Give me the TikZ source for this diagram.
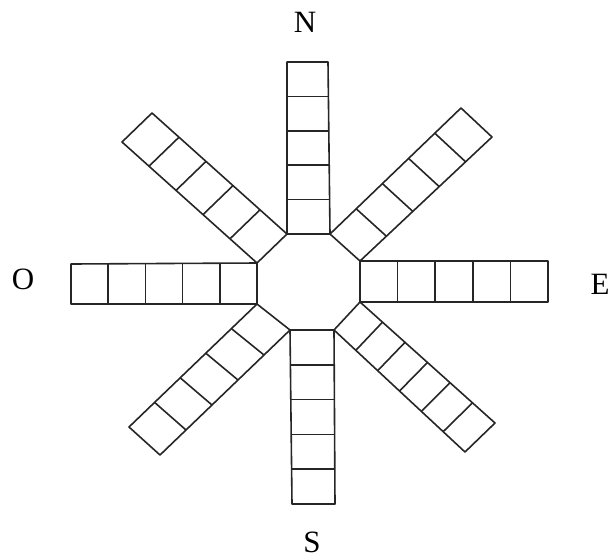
\documentclass[tikz,border=0pt]{standalone}
\usepackage{fontspec}
\setmainfont{Liberation Serif}
\usetikzlibrary{calc}
\tikzset{
  cell/.style={line width=1.6pt,draw=black!85,line join=round},
  compass/.style={font=\fontsize{31}{33}\selectfont,inner sep=0pt},
}

\begin{document}
\begin{tikzpicture}[x=1pt,y=-1pt]
  \useasboundingbox (0,0) rectangle (611,558);
  % octagon corners
  \coordinate (A) at (287,234);
  \coordinate (B) at (330,234);
  \coordinate (C) at (360,261);
  \coordinate (D) at (360,302);
  \coordinate (E) at (334,330);
  \coordinate (F) at (290,330);
  \coordinate (G) at (257,304);
  \coordinate (H) at (257,263);
  % outer ends of the arms
  \coordinate (n1)  at (287,62);   \coordinate (n2)  at (328,62);
  \coordinate (ne1) at (461,108);  \coordinate (ne2) at (492,137);
  \coordinate (e1)  at (548,261);  \coordinate (e2)  at (548,302);
  \coordinate (se1) at (495,423);  \coordinate (se2) at (465,452);
  \coordinate (s1)  at (335,504);  \coordinate (s2)  at (292,504);
  \coordinate (sw1) at (160,455);  \coordinate (sw2) at (129,427);
  \coordinate (w1)  at (71,304);   \coordinate (w2)  at (71,264);
  \coordinate (nw1) at (122,142);  \coordinate (nw2) at (152,113);
  % octagon
  \draw[cell] (A) -- (B) -- (C) -- (D) -- (E) -- (F) -- (G) -- (H) -- cycle;
  % arms of cells
  \foreach \p/\q/\r/\s/\n in {A/B/n1/n2/5, B/C/ne1/ne2/5, C/D/e1/e2/5,
      D/E/se1/se2/6, E/F/s1/s2/5, F/G/sw1/sw2/5, G/H/w1/w2/5, H/A/nw1/nw2/5}{
    \draw[cell] (\p) -- (\r) -- (\s) -- (\q);
    \pgfmathtruncatemacro{\lastcut}{\n-1}
    \foreach \k in {1,...,\lastcut}
      \draw[cell] ($(\p)!\k/\n!(\r)$) -- ($(\q)!\k/\n!(\s)$);
  }
  % compass points
  \node[compass] (north) at (305,22)  {N};
  \node[compass] (west)  at (23,279)  {O};
  \node[compass] (east)  at (600,284) {E};
  \node[compass] (south) at (312,542) {S};
\end{tikzpicture}
\end{document}
